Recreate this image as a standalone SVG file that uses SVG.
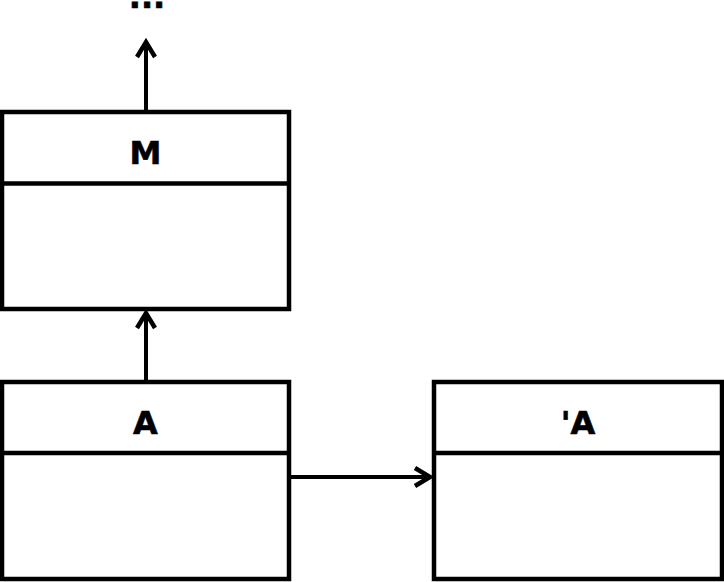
<svg xmlns="http://www.w3.org/2000/svg" width="724" height="582" viewBox="0 0 724 582">
<style>
.box{fill:#fff;stroke:#000;stroke-width:4.5}
.div{stroke:#000;stroke-width:4.5}
.lbl{font-family:"DejaVu Sans",Verdana,sans-serif;font-weight:bold;font-size:32px;fill:#000;stroke:#000;stroke-width:0.6;text-anchor:middle}
.edge{stroke:#000;stroke-width:4;fill:none}
</style>
<defs>
<marker id="arr" markerUnits="userSpaceOnUse" viewBox="-20 -12 24 24" refX="0" refY="0" markerWidth="24" markerHeight="24" orient="auto" overflow="visible">
<path d="M-15,-9 L0,0 L-15,9" fill="none" stroke="#000" stroke-width="4.5" stroke-linejoin="miter"/>
</marker>
</defs>
<rect width="724" height="582" fill="#fff"/>
<text class="lbl" x="147" y="8">...</text>
<g id="M">
<rect class="box" x="2" y="112" width="287" height="197"/>
<line class="div" x1="2" y1="183.5" x2="289" y2="183.5"/>
<text class="lbl" x="145.5" y="164">M</text>
</g>
<g id="A">
<rect class="box" x="2" y="382" width="287" height="197"/>
<line class="div" x1="2" y1="453" x2="289" y2="453"/>
<text class="lbl" x="145.5" y="434">A</text>
</g>
<g id="A2">
<rect class="box" x="434" y="382" width="288" height="197"/>
<line class="div" x1="434" y1="453" x2="722" y2="453"/>
<text class="lbl" x="578" y="434">'A</text>
</g>
<g id="connectors">
<line class="edge" x1="146" y1="110" x2="146" y2="42" marker-end="url(#arr)"/>
<line class="edge" x1="146" y1="380" x2="146" y2="313" marker-end="url(#arr)"/>
<line class="edge" x1="291" y1="477" x2="430" y2="477" marker-end="url(#arr)"/>
</g>
</svg>
